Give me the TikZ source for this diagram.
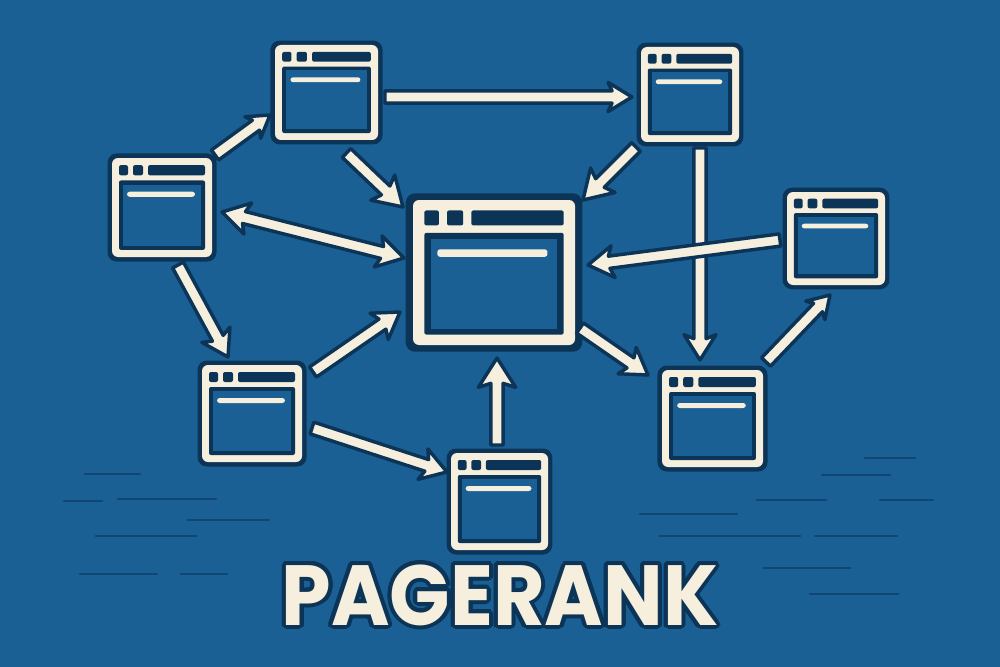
\documentclass[tikz,border=0pt]{standalone}
\usepackage{fontspec}
\usetikzlibrary{calc}
\newfontfamily\titlefont{Poppins}
\definecolor{bg}{RGB}{27,96,148}
\definecolor{navy}{RGB}{12,52,86}
\definecolor{cream}{RGB}{246,239,222}
\definecolor{dashcol}{RGB}{17,70,116}
\tikzset{
  pagenode/.style={inner sep=0pt,outer sep=0pt},
  arrowshape/.style={fill=cream,draw=navy,line width=2.6pt,line join=round},
  titlestyle/.style={inner sep=0pt,xscale=0.93,transform shape,font=\titlefont\bfseries\fontsize{64}{64}\selectfont},
  dashline/.style={dashcol,line width=2pt,line cap=round}
}
% name, x0, y0, W, H  (pixels, y downward)
\newcommand\webpage[5]{%
  \begin{scope}[shift={(#2,#3)},xscale=#4/100,yscale=#5/97]
    \fill[navy,rounded corners=7pt] (-4.5,-4.5) rectangle (104.5,101.5);
    \fill[cream,rounded corners=4.5pt] (0,0) rectangle (100,97);
    \fill[navy,rounded corners=1.5pt] (7,7) rectangle (16,17);
    \fill[navy,rounded corners=1.5pt] (21,7) rectangle (31,17);
    \fill[navy,rounded corners=1.5pt] (36,7) rectangle (93,17);
    \fill[navy,rounded corners=1.5pt] (7,22) rectangle (93,90);
    \fill[bg] (11,26) rectangle (89,86);
    \fill[cream,rounded corners=2pt] (15,33) rectangle (83,38);
  \end{scope}
  \node[pagenode,minimum width=#4*0.75pt,minimum height=#5*0.75pt] (#1) at ({#2+#4/2},{#3+#5/2}) {};
}
% single-headed arrow: from, to, head length, head half-width
\newcommand\parrow[4]{%
  \coordinate (ap) at #1;
  \coordinate (aq) at #2;
  \coordinate (ab) at ($(aq)!#3!(ap)$);
  \coordinate (aj) at ($(aq)!#3-3pt!(ap)$);
  \filldraw[arrowshape] ($(ap)!4.6pt!90:(aq)$) -- ($(aj)!4.6pt!90:(aq)$) -- ($(ab)!#4!90:(aq)$)
     -- (aq) -- ($(ab)!#4!-90:(aq)$) -- ($(aj)!4.6pt!-90:(aq)$) -- ($(ap)!4.6pt!-90:(aq)$) -- cycle;
}
% double-headed arrow
\newcommand\dparrow[4]{%
  \coordinate (ap) at #1;
  \coordinate (aq) at #2;
  \coordinate (ab) at ($(aq)!#3!(ap)$);
  \coordinate (aj) at ($(aq)!#3-3pt!(ap)$);
  \coordinate (ac) at ($(ap)!#3!(aq)$);
  \coordinate (ak) at ($(ap)!#3-3pt!(aq)$);
  \filldraw[arrowshape] (ap) -- ($(ac)!#4!90:(aq)$) -- ($(ak)!4.6pt!90:(aq)$) -- ($(aj)!4.6pt!90:(aq)$) -- ($(ab)!#4!90:(aq)$)
     -- (aq) -- ($(ab)!#4!-90:(aq)$) -- ($(aj)!4.6pt!-90:(aq)$) -- ($(ak)!4.6pt!-90:(aq)$) -- ($(ac)!#4!-90:(aq)$) -- cycle;
}
\begin{document}
\begin{tikzpicture}[x=0.75pt,y=-0.75pt]
\fill[bg] (0,0) rectangle (1000,667);
\useasboundingbox (0,0) rectangle (1000,667);

% background dashes
\draw[dashline] (85,474) -- (140,474);
\draw[dashline] (64,501) -- (102,501);
\draw[dashline] (118,499) -- (216,499);
\draw[dashline] (188,520) -- (269,520);
\draw[dashline] (96,536) -- (196,536);
\draw[dashline] (80,574) -- (157,574);
\draw[dashline] (181,574) -- (227,574);
\draw[dashline] (865,458) -- (915,458);
\draw[dashline] (822,475) -- (890,475);
\draw[dashline] (757,500) -- (826,500);
\draw[dashline] (880,500) -- (933,500);
\draw[dashline] (640,514) -- (737,514);
\draw[dashline] (660,536) -- (800,536);
\draw[dashline] (815,536) -- (897,536);
\draw[dashline] (764,568) -- (850,568);
\draw[dashline] (810,594) -- (898,594);

% pages
\webpage{A}{275}{45}{103}{95}
\webpage{B}{641}{47}{98}{95}
\webpage{C}{112}{158}{100}{99}
\webpage{D}{787}{192}{98}{93}
\webpage{E}{202}{365}{100}{97}
\webpage{F}{662}{370}{101}{97}
\webpage{G}{451}{453}{97}{97}
\webpage{M}{413}{200}{162}{145}

% links
\parrow{($(C.north east)+(3,-3)$)}{($(A.south west)+(-5,-25)$)}{16pt}{10pt}
\parrow{($(A.east)+(7,4.5)$)}{($(B.west)+(-9,2.5)$)}{18pt}{11pt}
\parrow{($(A.south)+(20,13)$)}{($(M.north west)+(-10,7)$)}{21pt}{13pt}
\parrow{($(B.south west)+(-5,5)$)}{($(M.north east)+(8,0)$)}{21pt}{13pt}
\dparrow{($(C.east)+(10,4.5)$)}{($(M.west)+(-9,-14.5)$)}{20pt}{12pt}
\parrow{($(B.south)+(10,6)$)}{($(F.north)+(-12.5,-10)$)}{19pt}{12pt}
\parrow{($(D.west)+(-7,1.5)$)}{($(M.east)+(13,-7.5)$)}{19pt}{12pt}
\parrow{($(C.south)+(16,8)$)}{($(E.north west)+(26,-8)$)}{19pt}{12pt}
\parrow{($(E.north east)+(11,7)$)}{($(M.west)+(-13,39.5)$)}{19pt}{12pt}
\parrow{($(M.south east)+(5,-17)$)}{($(F.north west)+(-14,5)$)}{19pt}{12pt}
\parrow{($(F.north east)+(3,-8)$)}{($(D.south)+(-6,10)$)}{16pt}{10pt}
\parrow{($(E.east)+(10,14.5)$)}{($(G.west)+(-4,-29.5)$)}{19pt}{12pt}
\parrow{($(G.north)+(-2.5,-8)$)}{($(M.south)+(3,13)$)}{22pt}{14pt}

% title with a navy outline made of offset copies
\foreach \a in {0,15,...,345}
  \node[titlestyle,text=navy] (tt\a) at ($(500,595)+(\a:3pt)$) {PAGERANK};
\node[titlestyle,text=cream] (title) at (500,595) {PAGERANK};
\end{tikzpicture}
\end{document}
